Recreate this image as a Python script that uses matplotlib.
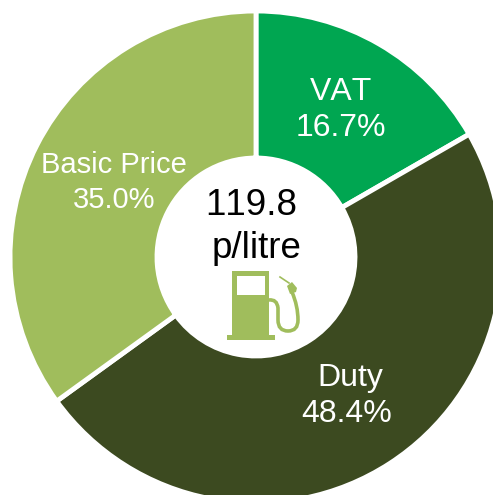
import matplotlib
matplotlib.use("Agg")
import matplotlib.pyplot as plt
from matplotlib.patches import Rectangle, PathPatch
from matplotlib.path import Path

categories = ["VAT", "Duty", "Basic Price"]
shares = [16.7, 48.4, 35.0]
colors = ["#00A651", "#3C4A20", "#A0BD5C"]
share_labels = ["16.7%", "48.4%", "35.0%"]
centre_value = "119.8"
centre_unit = "p/litre"
ICON = "#A0BD5C"

plt.rcParams["font.family"] = ["Liberation Sans", "DejaVu Sans"]
plt.rcParams["text.kerning_factor"] = 6
fig = plt.figure(figsize=(4.93, 4.95), dpi=100)

# doughnut, in a y-up pixel frame
ax_pie = fig.add_axes([0, 0, 1, 1])
ax_pie.pie(
    shares, colors=colors, startangle=90, counterclock=False,
    center=(256, 495 - 257), radius=246, frame=True,
    wedgeprops=dict(width=147, edgecolor="white", linewidth=3.5),
)
ax_pie.set_xlim(0, 493)
ax_pie.set_ylim(0, 495)
ax_pie.set_aspect("auto")
ax_pie.axis("off")

# overlay for text and icon, in y-down pixel coordinates
ax = fig.add_axes([0, 0, 1, 1])
ax.set_xlim(0, 493)
ax.set_ylim(495, 0)
ax.axis("off")
ax.patch.set_alpha(0)

name_pos = [(341, 100), (350, 386), (114, 173)]
value_pos = [(341, 136), (347, 422), (114, 208)]
sizes = [23, 23, 21]
for cat, lab, np_, vp, fs in zip(categories, share_labels, name_pos, value_pos, sizes):
    ax.text(np_[0], np_[1], cat, color="white", fontsize=fs, ha="center", va="baseline")
    ax.text(vp[0], vp[1], lab, color="white", fontsize=fs, ha="center", va="baseline")

ax.text(251, 215, centre_value, color="black", fontsize=26.5, ha="center", va="baseline")
ax.text(257, 258, centre_unit, color="black", fontsize=26.5, ha="center", va="baseline")

# fuel pump icon
ax.add_patch(Rectangle((232, 271), 37, 65, facecolor=ICON, edgecolor="none"))
ax.add_patch(Rectangle((227, 335), 48, 5, facecolor=ICON, edgecolor="none"))
ax.add_patch(Rectangle((237, 276), 28, 19, facecolor="white", edgecolor="none"))
hose = Path(
    [(269, 300), (277, 299), (278, 308), (278, 320), (278, 331), (288, 331),
     (298, 331), (298, 320), (298, 306), (292, 292)],
    [Path.MOVETO, Path.CURVE3, Path.CURVE3, Path.LINETO, Path.CURVE3, Path.CURVE3,
     Path.CURVE3, Path.CURVE3, Path.CURVE3, Path.CURVE3],
)
ax.add_patch(PathPatch(hose, facecolor="none", edgecolor=ICON, linewidth=2.6))
nozzle = Path(
    [(287, 286), (292, 282), (297, 288), (296, 292), (290, 294), (287, 286)],
    [Path.MOVETO, Path.LINETO, Path.LINETO, Path.LINETO, Path.LINETO, Path.CLOSEPOLY],
)
ax.add_patch(PathPatch(nozzle, facecolor=ICON, edgecolor="none"))
ax.plot([280, 289], [277, 283], color=ICON, linewidth=1.2)

fig.savefig("out.png", dpi=100)
